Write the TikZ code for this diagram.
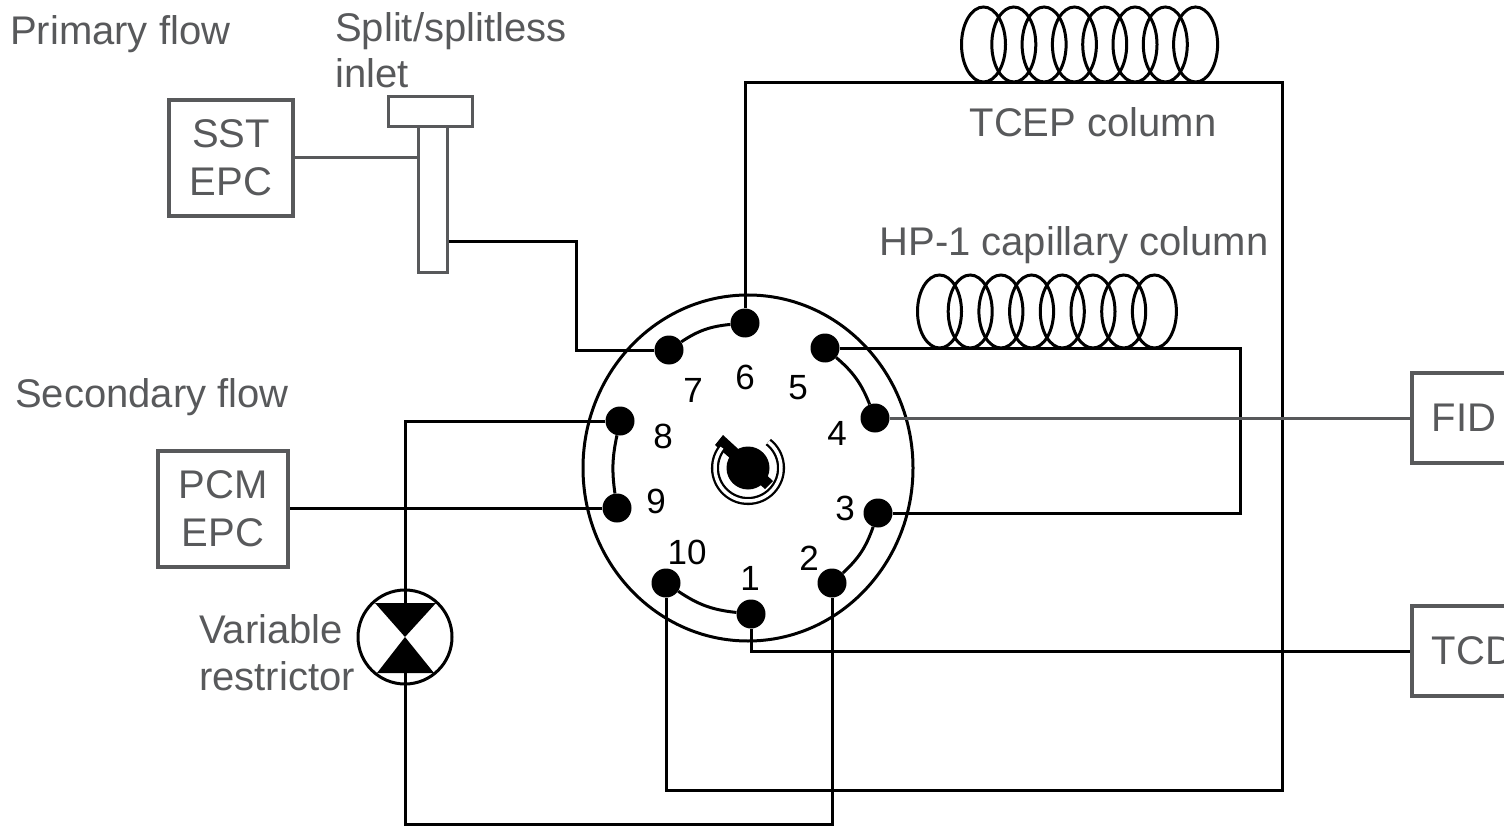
\documentclass[tikz,border=0pt]{standalone}
\usepackage{fontspec}
\setmainfont{Liberation Sans}
\usetikzlibrary{shapes.geometric}
\definecolor{dgray}{RGB}{88,89,91}
\begin{document}
\begin{tikzpicture}[x=1pt,y=-1pt,
  pipe/.style={line width=3pt, draw=black},
  gpipe/.style={line width=3pt, draw=dgray},
  coil/.style={line width=3pt, draw=black},
  gbox/.style={draw=dgray, line width=3.5pt, text=dgray, font=\fontsize{40}{48}\selectfont, align=center, inner sep=0pt},
  port/.style={circle, fill=black, minimum size=29pt, inner sep=0pt},
  num/.style={font=\fontsize{35}{40}\selectfont, inner sep=0pt},
  lbl/.style={text=dgray, font=\fontsize{40}{46}\selectfont, inner sep=0pt, align=left}]
\useasboundingbox (0,0) rectangle (1504,826);
% boxes
\node[gbox, minimum width=124pt, minimum height=116pt] (sst) at (231,158) {SST\\EPC};
\node[gbox, minimum width=130pt, minimum height=116pt] (pcm) at (223,509) {PCM\\EPC};
\node[gbox, anchor=west, minimum height=90pt, text width=100pt, align=left, inner xsep=20pt] (fid) at (1410,418) {FID};
\node[gbox, anchor=west, minimum height=90pt, text width=100pt, align=left, inner xsep=20pt] (tcd) at (1410,651) {TCD};
% inlet
\node[draw=dgray, line width=3pt, minimum width=84pt, minimum height=30pt, inner sep=0pt] (cap) at (430.5,112) {};
\node[draw=dgray, line width=3pt, minimum width=29pt, minimum height=146pt, inner sep=0pt] (stem) at (432.5,200) {};
% valve
\coordinate (vc) at (748,468);
\node[draw, ellipse, line width=3pt, minimum width=330pt, minimum height=346pt, inner sep=0pt] (valve) at (vc) {};
% ports
\node[port] (p1) at (751,614) {};
\node[port] (p2) at (832,583) {};
\node[port] (p3) at (878,513) {};
\node[port] (p4) at (875,418) {};
\node[port] (p5) at (825,348) {};
\node[port] (p6) at (745,323) {};
\node[port] (p7) at (669,350) {};
\node[port] (p8) at (620,421) {};
\node[port] (p9) at (617,508) {};
\node[port] (p10) at (666,583) {};
% port numbers
\node[num] (n1) at (750,578) {1};
\node[num] (n2) at (809,558) {2};
\node[num] (n3) at (845,508) {3};
\node[num] (n4) at (837,433) {4};
\node[num] (n5) at (798,388) {5};
\node[num] (n6) at (745,377) {6};
\node[num] (n7) at (693,390) {7};
\node[num] (n8) at (663,436) {8};
\node[num] (n9) at (656,501) {9};
\node[num] (n10) at (687,552) {10};
% internal channels
\draw[pipe] (p7) to[bend left=14] (p6);
\draw[pipe] (p5) to[bend left=14] (p4);
\draw[pipe] (p9) to[bend left=10] (p8);
\draw[pipe] (p3) to[bend left=14] (p2);
\draw[pipe] (p1) to[bend left=14] (p10);
% rotor
\fill (vc) circle (21.5);
\fill (715,445) -- (723,435) -- (773,481) -- (765,489) -- cycle;
\draw[double=white, double distance=3.5pt, line width=2.3pt] (vc) ++(-52:33) arc[start angle=-52, end angle=218, radius=33];
% restrictor
\node[draw, circle, line width=3pt, minimum size=94pt, inner sep=0pt] (vr) at (405,637) {};
\coordinate (vrT) at (405,603);
\coordinate (vrB) at (405,673);
\fill (375,603) -- (436,603) -- (vr.center) -- cycle;
\fill (377,673) -- (434,673) -- (vr.center) -- cycle;
% coordinates for routing
\coordinate (tcepTR) at (1282,83);
\coordinate (tcepBR) at (1282,790);
\coordinate (hpR) at (1240,350);
\coordinate (k7) at (576,242);
\coordinate (bot) at (832,824);
% connectors
\draw[pipe] (p6) |- (tcepTR) -- (tcepBR) -| (p10);
\draw[pipe] (p7) -| (k7) -- (k7 -| stem.east);
\draw[pipe] (p5) -| (hpR) |- (p3);
\draw[gpipe] (p4) -- (p4 -| fid.west);
\draw[pipe] (p9) -- (p9 -| pcm.east);
\draw[pipe] (p8) -| (vrT);
\draw[pipe] (vrB) |- (bot) -- (p2);
\draw[pipe] (p1) |- (tcd.west);
\draw[gpipe] (sst.east) -- (sst.east -| stem.west);
% coils
\foreach \i in {0,...,7} \draw[coil] ({983.5+\i*30.3},44.5) ellipse [x radius=22, y radius=37.5];
\foreach \i in {0,...,7} \draw[coil] ({939.5+\i*30.7},311.5) ellipse [x radius=22, y radius=36.5];
% labels
\node[lbl, anchor=base west] (lprim) at (10,45) {Primary flow};
\node[lbl, anchor=base west] (linlet) at (335,88) {Split/splitless\\inlet};
\node[lbl, anchor=base west] (lsec) at (15,407) {Secondary flow};
\node[lbl, anchor=base] (ltcep) at (1093,137) {TCEP column};
\node[lbl, anchor=base] (lhp) at (1074,256) {HP-1 capillary column};
\node[lbl, anchor=base west, font=\fontsize{40}{47}\selectfont] (lvr) at (199,690) {Variable\\restrictor};
\end{tikzpicture}
\end{document}
